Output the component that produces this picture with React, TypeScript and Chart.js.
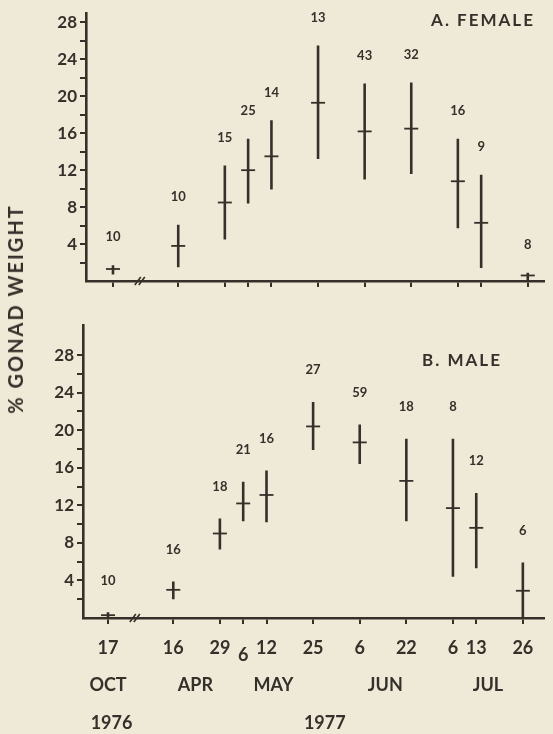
import React, { useEffect, useRef } from 'react';
import { Chart, registerables } from 'chart.js';

Chart.register(...registerables);

// ---- data ----
const dayLabels = ['17', '16', '29', '6', '12', '25', '6', '22', '6', '13', '26'];
// sampling dates placed on the figure's (broken) time axis, in axis units
const axisPos = [-2.8, 0, 2, 3, 4, 6, 8, 10, 12, 13, 15];
const monthLabels = ['OCT', 'APR', 'MAY', 'JUN', 'JUL'];
const monthPos = [-2.8, 0.95, 4.3, 9.1, 13.5];
const yearLabels = ['1976', '1977'];
const yearPos = [-2.65, 6.5];
const yTickValues = [2, 4, 6, 8, 10, 12, 14, 16, 18, 20, 22, 24, 26, 28];
const breakPos = -1.65;

const femaleMean = [1.3, 3.8, 8.5, 12.0, 13.5, 19.3, 16.2, 16.5, 10.8, 6.3, 0.6];
const femaleLow = [0.7, 1.5, 4.5, 8.4, 9.9, 13.2, 11.0, 11.6, 5.7, 1.4, 0];
const femaleHigh = [1.7, 6.1, 12.5, 15.4, 17.4, 25.5, 21.4, 21.5, 15.4, 11.5, 0.9];
const femaleN = [10, 10, 15, 25, 14, 13, 43, 32, 16, 9, 8];

const maleMean = [0.3, 3.0, 9.0, 12.2, 13.1, 20.4, 18.7, 14.6, 11.7, 9.6, 2.9];
const maleLow = [0, 2.0, 7.3, 10.3, 10.2, 17.9, 16.4, 10.3, 4.4, 5.3, 0];
const maleHigh = [0.6, 3.9, 10.6, 14.5, 15.7, 23.0, 20.6, 19.1, 19.1, 13.3, 5.9];
const maleN = [10, 16, 18, 21, 16, 27, 59, 18, 8, 12, 6];

// ---- style ----
const INK = '#35302a';
const BG = '#efead8';
const FONT = 'Lato, "Open Sans", "DejaVu Sans", sans-serif';

type PanelProps = {
  mean: number[];
  low: number[];
  high: number[];
  n: number[];
  title: string;
  titleX: number;
  titleY: number;
  yMax: number;
  xMin: number;
  xMax: number;
  top: number;
  height: number;
  padTop: number;
  yAxisWidth: number;
  xAxisHeight: number;
  labelOffset: number;
  bottomLabels: boolean;
};

function Panel(p: PanelProps) {
  const ref = useRef<HTMLCanvasElement | null>(null);
  useEffect(() => {
    if (!ref.current) return;
    const rangeData: any[] = [];
    axisPos.forEach((x, i) => {
      rangeData.push({ x, y: p.low[i] });
      rangeData.push({ x, y: p.high[i] });
      rangeData.push({ x, y: null });
    });
    const meanData = axisPos.map((x, i) => ({ x, y: p.mean[i] }));

    const overlay = {
      id: 'overlay',
      afterDraw(chart: any) {
        const ctx = chart.ctx;
        const xs = chart.scales.x;
        const ys = chart.scales.y;
        const area = chart.chartArea;
        ctx.save();
        ctx.fillStyle = INK;
        ctx.strokeStyle = INK;
        // sample sizes
        ctx.font = `bold 13px ${FONT}`;
        ctx.textAlign = 'center';
        ctx.textBaseline = 'middle';
        axisPos.forEach((x, i) => {
          ctx.fillText(String(p.n[i]), xs.getPixelForValue(x), ys.getPixelForValue(p.high[i]) - p.labelOffset);
        });
        // title
        ctx.font = `bold 17px ${FONT}`;
        (ctx as any).letterSpacing = '2px';
        ctx.fillText(p.title, p.titleX, p.titleY);
        (ctx as any).letterSpacing = '0px';
        // axis break
        const bx = xs.getPixelForValue(breakPos);
        const by = area.bottom;
        ctx.lineWidth = 1.6;
        for (const dx of [-2, 2]) {
          ctx.beginPath();
          ctx.moveTo(bx + dx - 3, by + 4);
          ctx.lineTo(bx + dx + 3, by - 4);
          ctx.stroke();
        }
        if (p.bottomLabels) {
          ctx.font = `bold 18px ${FONT}`;
          axisPos.forEach((x, i) => {
            const lowered = i === 3;
            ctx.fillText(dayLabels[i], xs.getPixelForValue(x), lowered ? 355 : 348);
          });
          monthLabels.forEach((m, i) => ctx.fillText(m, xs.getPixelForValue(monthPos[i]), 385));
          yearLabels.forEach((y, i) => ctx.fillText(y, xs.getPixelForValue(yearPos[i]), 423));
        }
        ctx.restore();
      },
    };

    const chart = new Chart(ref.current, {
      type: 'line',
      data: {
        datasets: [
          {
            type: 'line',
            data: rangeData,
            borderColor: INK,
            borderWidth: 2.6,
            pointRadius: 0,
            spanGaps: false,
            tension: 0,
            clip: false,
          } as any,
          {
            type: 'scatter',
            data: meanData,
            pointStyle: 'line',
            pointRadius: 7,
            borderColor: INK,
            backgroundColor: INK,
            borderWidth: 1.8,
            clip: false,
          } as any,
        ],
      },
      options: {
        animation: false,
        responsive: false,
        maintainAspectRatio: false,
        events: [],
        layout: { padding: { top: p.padTop, left: 0, right: 0, bottom: 0 } },
        plugins: { legend: { display: false }, tooltip: { enabled: false } },
        scales: {
          x: {
            type: 'linear',
            min: p.xMin,
            max: p.xMax,
            afterBuildTicks: (s: any) => {
              s.ticks = axisPos.map((v) => ({ value: v }));
            },
            ticks: { display: false, autoSkip: false },
            grid: { drawOnChartArea: false, drawTicks: true, tickLength: 6, color: INK, lineWidth: 2 },
            border: { display: true, color: INK, width: 2.6 },
            afterFit: (s: any) => {
              s.height = p.xAxisHeight;
            },
          },
          y: {
            type: 'linear',
            min: 0,
            max: p.yMax,
            afterBuildTicks: (s: any) => {
              s.ticks = yTickValues.map((v) => ({ value: v }));
            },
            ticks: {
              autoSkip: false,
              color: INK,
              padding: 3,
              font: { family: FONT, size: 17, weight: 'bold' },
              callback: (v: any) => (Number(v) % 4 === 0 ? String(v) : ''),
            },
            grid: { drawOnChartArea: false, drawTicks: true, tickLength: 6, color: INK, lineWidth: 2 },
            border: { display: true, color: INK, width: 2.6 },
            afterFit: (s: any) => {
              s.width = p.yAxisWidth;
            },
          },
        },
      } as any,
      plugins: [overlay],
    });
    return () => chart.destroy();
  }, []);
  return (
    <canvas
      ref={ref}
      width={553}
      height={p.height}
      style={{ position: 'absolute', left: 0, top: p.top, width: 553, height: p.height }}
    />
  );
}

export default function App() {
  return (
    <div style={{ position: 'fixed', left: 0, top: 0, width: 553, height: 734, background: BG, overflow: 'hidden' }}>
      <Panel
        mean={femaleMean}
        low={femaleLow}
        high={femaleHigh}
        n={femaleN}
        title="A. FEMALE"
        titleX={483}
        titleY={21}
        yMax={29}
        xMin={-3.958}
        xMax={15.705}
        top={0}
        height={300}
        padTop={9}
        yAxisWidth={86}
        xAxisHeight={19}
        labelOffset={28}
        bottomLabels={false}
      />
      <Panel
        mean={maleMean}
        low={maleLow}
        high={maleHigh}
        n={maleN}
        title="B. MALE"
        titleX={462}
        titleY={61}
        yMax={31.2}
        xMin={-3.874}
        xMax={15.916}
        top={300}
        height={434}
        padTop={25}
        yAxisWidth={83}
        xAxisHeight={116}
        labelOffset={32}
        bottomLabels={true}
      />
      <div
        style={{
          position: 'absolute',
          left: 15,
          top: 309,
          transform: 'translate(-50%, -50%) rotate(-90deg)',
          font: `bold 20px ${FONT}`,
          letterSpacing: '2px',
          color: INK,
          whiteSpace: 'nowrap',
        }}
      >
        % GONAD WEIGHT
      </div>
    </div>
  );
}
